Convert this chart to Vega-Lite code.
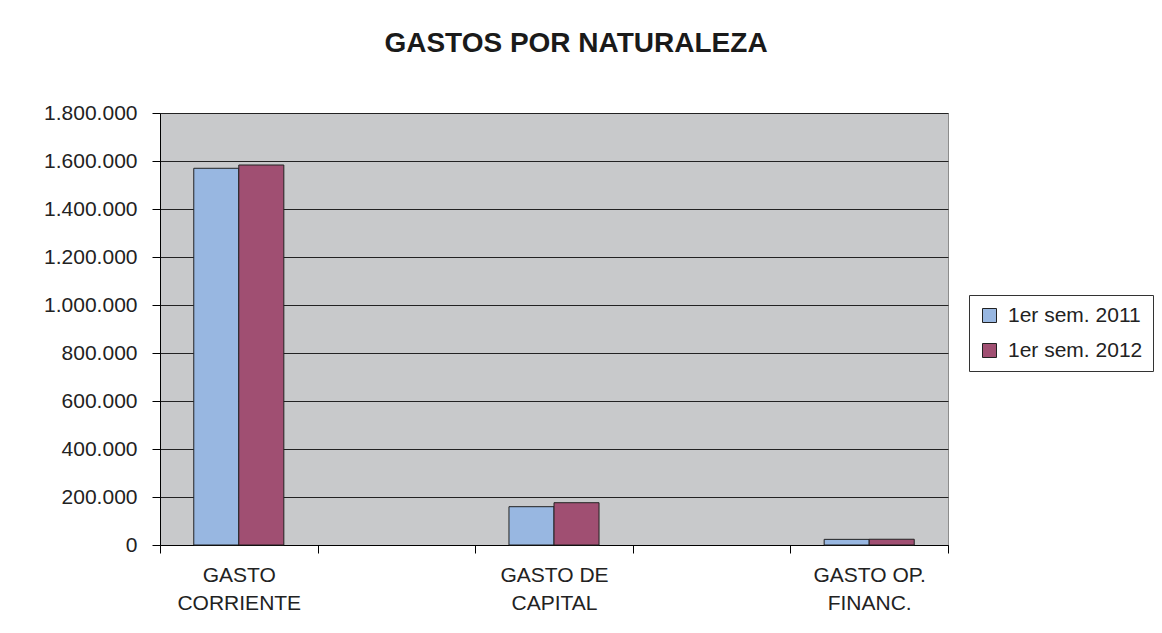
{
  "$schema": "https://vega.github.io/schema/vega-lite/v6.json",
  "autosize": {"type": "none"},
  "padding": {"left": 160, "top": 113, "right": 214, "bottom": 88},
  "width": 788,
  "height": 432,
  "background": "#ffffff",
  "title": {
    "text": "GASTOS POR NATURALEZA",
    "font": "Liberation Sans",
    "fontSize": 28,
    "fontWeight": "bold",
    "color": "#1a1a1a",
    "anchor": "middle",
    "frame": "group",
    "dx": 22,
    "offset": 44
  },
  "data": {
    "values": [
      {"cat": "GASTO|CORRIENTE", "serie": "1er sem. 2011", "valor": 1569600},
      {"cat": "GASTO|CORRIENTE", "serie": "1er sem. 2012", "valor": 1583300},
      {"cat": "GASTO DE|CAPITAL", "serie": "1er sem. 2011", "valor": 159600},
      {"cat": "GASTO DE|CAPITAL", "serie": "1er sem. 2012", "valor": 176200},
      {"cat": "GASTO OP.|FINANC.", "serie": "1er sem. 2011", "valor": 23500},
      {"cat": "GASTO OP.|FINANC.", "serie": "1er sem. 2012", "valor": 24000}
    ]
  },
  "mark": {"type": "bar", "stroke": "#222222", "strokeWidth": 1},
  "encoding": {
    "x": {
      "field": "cat",
      "type": "nominal",
      "sort": null,
      "scale": {
        "domain": ["GASTO|CORRIENTE", " ", "GASTO DE|CAPITAL", "  ", "GASTO OP.|FINANC."],
        "paddingInner": 0,
        "paddingOuter": 0
      },
      "axis": {
        "title": null,
        "labelAngle": 0,
        "labelExpr": "split(datum.label, '|')",
        "labelFont": "Liberation Sans",
        "labelFontSize": 21,
        "labelColor": "#222222",
        "labelLineHeight": 28,
        "labelPadding": 11,
        "tickBand": "extent",
        "tickSize": 8,
        "tickColor": "#000000",
        "domainColor": "#000000",
        "grid": false
      }
    },
    "xOffset": {
      "field": "serie",
      "type": "nominal",
      "scale": {"paddingInner": 0, "paddingOuter": 0.75}
    },
    "y": {
      "field": "valor",
      "type": "quantitative",
      "scale": {"domain": [0, 1800000], "nice": false},
      "axis": {
        "title": null,
        "values": [0, 200000, 400000, 600000, 800000, 1000000, 1200000, 1400000, 1600000, 1800000],
        "labelExpr": "replace(format(datum.value, ','), regexp(',', 'g'), '.')",
        "labelFont": "Liberation Sans",
        "labelFontSize": 21,
        "labelColor": "#222222",
        "labelPadding": 15,
        "tickSize": 8,
        "tickColor": "#000000",
        "domainColor": "#000000",
        "grid": true,
        "gridColor": "#222222",
        "gridWidth": 1
      }
    },
    "color": {
      "field": "serie",
      "type": "nominal",
      "scale": {"range": ["#98B7E1", "#A04F72"]},
      "legend": {
        "title": null,
        "orient": "none",
        "legendX": 809,
        "legendY": 182,
        "padding": 10,
        "strokeColor": "#333333",
        "fillColor": "#ffffff",
        "symbolType": "square",
        "symbolSize": 196,
        "symbolStrokeColor": "#222222",
        "symbolStrokeWidth": 1,
        "symbolOpacity": 1,
        "labelFont": "Liberation Sans",
        "labelFontSize": 21,
        "labelColor": "#222222",
        "labelOffset": 8,
        "rowPadding": 13
      }
    }
  },
  "config": {
    "view": {"fill": "#C8C9CB", "stroke": "#8c8c8c", "strokeWidth": 1}
  }
}
